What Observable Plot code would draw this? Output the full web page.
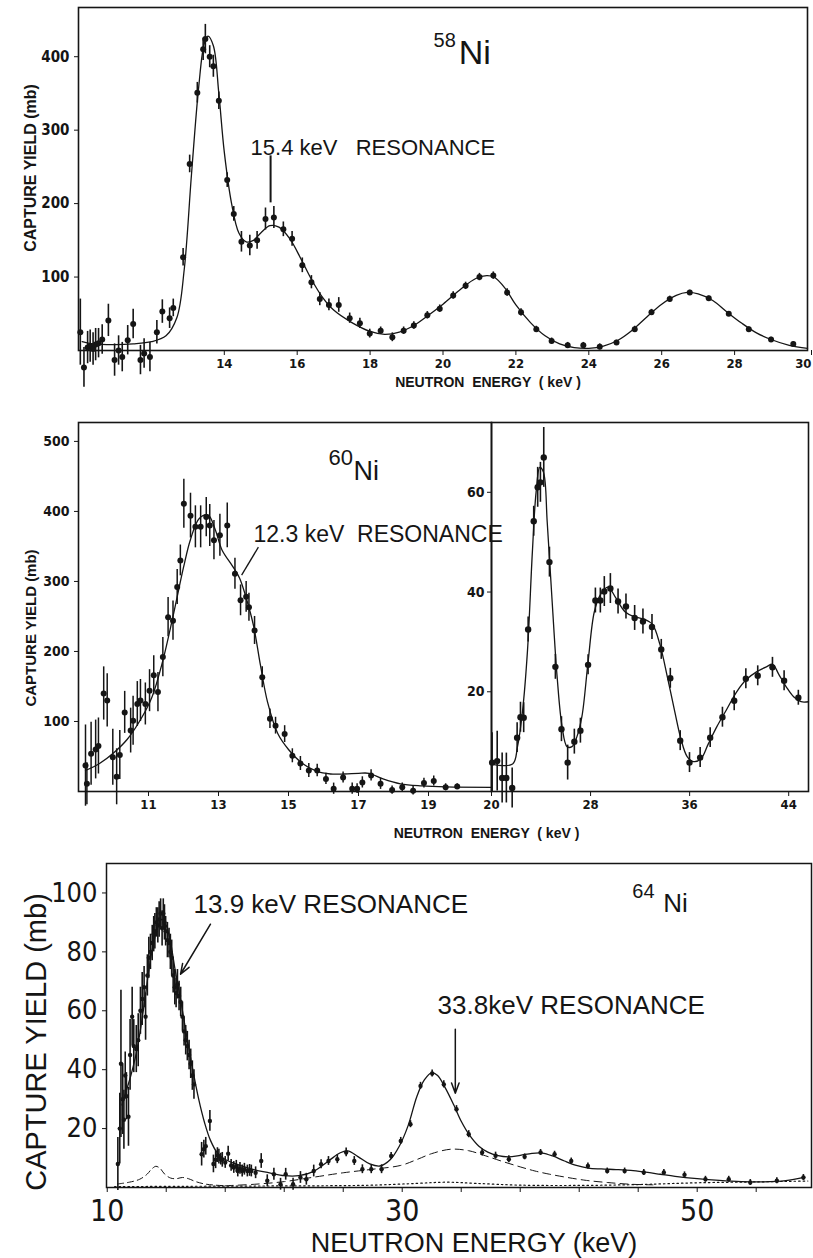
<!DOCTYPE html>
<html><head><meta charset="utf-8">
<script src="https://cdn.jsdelivr.net/npm/d3@7"></script>
<script src="https://cdn.jsdelivr.net/npm/@observablehq/plot@0.6"></script>
<style>
body{margin:0;background:#fff;}
#wrap{position:relative;width:813px;height:1258px;overflow:hidden;background:#fff;}
#wrap svg{position:absolute;}
</style></head><body><div id="wrap"></div>
<script>
// ---------- 58Ni ----------
const ni58XTicks = [14,16,18,20,22,24,26,28];
const ni58XEndTick = [30];
const ni58YTicks = [100,200,300,400];
// [energy keV, yield mb, error mb]
const ni58Points = [
 [10.05,25,45],[10.15,-23,27],[10.25,4,22],[10.32,6,22],[10.4,2,22],[10.47,8,22],[10.55,10,20],[10.65,15,20],
 [10.82,41,22],[10.99,-13,22],[11.1,0,20],[11.2,-9,20],[11.35,14,20],[11.5,36,20],[11.7,-13,20],[11.8,-4,20],
 [11.96,-9,20],[12.15,25,16],[12.3,53,16],[12.5,44,14],[12.6,58,12],[12.87,127,12],[13.05,254,12],[13.26,351,14],
 [13.42,410,15],[13.48,424,20],[13.6,400,15],[13.7,387,15],[13.85,340,12],[14.08,232,10],[14.26,186,10],[14.47,148,14],
 [14.7,143,14],[14.9,150,12],[15.13,179,15],[15.36,181,15],[15.62,165,10],[15.86,152,10],[16.14,116,10],[16.39,93,9],
 [16.62,70,9],[16.87,62,8],[17.14,62,10],[17.44,44,7],[17.72,37,7],[17.99,23,6],[18.29,27,5],[18.61,18,6],
 [18.92,27,5],[19.2,34,5],[19.57,48,5],[19.91,57,5],[20.28,75,5],[20.62,88,5],[21.0,100,5],[21.38,102,5],
 [21.76,79,5],[22.14,52,5],[22.56,29,4],[22.98,13,4],[23.42,7,4],[23.85,7,4],[24.3,5,4],[24.76,11,3],
 [25.26,29,4],[25.72,52,4],[26.22,70,4],[26.77,79,3],[27.29,71,3],[27.84,50,3],[28.39,29,3],[29.0,15,3],[29.61,9,3]
];
const ni58Fit = [
 [10.1,12],[10.4,9],[11.0,8],[11.5,9],[12.0,12],[12.4,20],[12.7,45],[12.9,110],[13.1,240],[13.3,360],[13.45,418],
 [13.55,428],[13.7,415],[13.85,350],[14.0,270],[14.2,200],[14.4,160],[14.6,148],[14.8,150],[15.0,160],[15.25,170],
 [15.5,168],[15.8,152],[16.1,125],[16.4,96],[16.7,72],[17.0,55],[17.5,38],[18.0,26],[18.4,22],[18.8,25],[19.2,34],
 [19.6,48],[20.0,63],[20.5,84],[20.9,98],[21.2,102],[21.4,100],[21.7,85],[22.0,62],[22.4,38],[22.8,20],[23.2,9],
 [23.6,4],[24.0,3],[24.4,6],[24.8,14],[25.2,28],[25.6,46],[26.0,63],[26.4,75],[26.7,79],[27.0,77],[27.4,68],
 [27.8,52],[28.2,37],[28.6,24],[29.0,15],[29.5,7],[30.0,3]
];
const ni58Notes = [{x:14.72, y:276, text:"15.4 keV   RESONANCE"}];
const ni58Marker = [{x:15.27, y1:201, y2:265}];
const ni58Isotope = [{x:19.74, y:422, mass:"58", xs:20.43, ys:405, sym:"Ni"}];

// ---------- 60Ni (low range) ----------
const ni60aXTicks = [11,13,15,17,19];
const ni60aYTicks = [100,200,300,400,500];
const ni60aPoints = [
 [9.2,37,58],[9.24,11,30],[9.36,54,45],[9.49,60,42],[9.57,65,40],[9.72,140,38],[9.82,130,38],[9.98,49,40],
 [10.09,21,40],[10.18,52,35],[10.32,113,30],[10.49,87,32],[10.56,101,35],[10.68,125,32],[10.77,130,30],[10.91,125,30],
 [11.03,144,30],[11.15,166,28],[11.27,142,28],[11.41,192,28],[11.56,249,28],[11.7,244,28],[11.82,292,25],[11.91,330,22],
 [12.01,411,35],[12.2,394,32],[12.34,378,30],[12.49,378,30],[12.65,392,28],[12.75,380,30],[12.87,359,28],[13.04,366,30],
 [13.25,380,32],[13.47,311,22],[13.63,273,22],[13.79,278,22],[13.87,263,20],[14.03,230,20],[14.25,163,15],[14.47,104,14],
 [14.63,94,12],[14.89,82,12],[15.11,51,10],[15.34,40,10],[15.58,30,10],[15.82,30,9],[16.07,18,8],[16.29,4,8],
 [16.56,20,8],[16.82,4,8],[16.96,4,7],[17.11,13,8],[17.36,23,8],[17.63,11,8],[17.96,2,6],[18.25,6,6],
 [18.56,1,6],[18.87,12,7],[19.15,15,7],[19.49,6,5],[19.82,7,4]
];
const ni60aFit = [
 [9.2,30],[9.6,40],[10.0,55],[10.4,75],[10.8,105],[11.1,135],[11.4,185],[11.7,250],[12.0,320],[12.2,360],
 [12.45,390],[12.7,395],[12.9,375],[13.1,345],[13.4,322],[13.6,305],[13.8,275],[14.0,237],[14.2,180],[14.4,128],
 [14.7,82],[15.0,60],[15.4,40],[15.8,29],[16.2,25],[16.6,25],[17.0,26],[17.3,26],[17.7,18],[18.2,11],[18.8,8],
 [19.5,6.5],[20.8,6]
];
const ni60Notes = [{x:14.0, y:367, text:"12.3 keV  RESONANCE"}];
const ni60Pointer = [{x1:14.14, y1:349, x2:13.66, y2:309}];
const ni60Isotope = [{x:16.14, y:477, mass:"60", xs:16.86, ys:457, sym:"Ni"}];

// ---------- 60Ni (high range) ----------
const ni60bXTicks = [20,28,36,44];
const ni60bYTicks = [20,40,60];
const ni60bPoints = [
 [20.05,5.8,6],[20.46,6.1,6],[20.86,2.7,5],[21.2,2.7,5],[21.67,0.7,4],[22.07,10.8,3],[22.34,14.9,3],[22.6,14.8,3],
 [22.96,32.5,2.5],[23.41,54.2,3],[23.73,61,4],[23.95,62,4],[24.22,67,6],[24.68,46,3],[25.16,25,2.5],[25.65,12.5,2.5],
 [26.15,5.8,3.5],[26.69,10,2.5],[27.18,12.2,2.5],[27.8,25.4,2],[28.39,38.3,2.5],[28.79,38.3,2.5],[29.11,40.1,3],
 [29.6,40.7,3],[30.22,38.1,2.5],[30.86,37.1,2.5],[31.56,34.8,2.5],[32.23,34.1,2.5],[32.96,33,2.5],[33.71,28.5,2],
 [34.44,22.7,2],[35.24,10.2,2],[35.99,5.8,2],[36.85,6.8,2],[37.66,10.8,2],[38.65,14.9,2],[39.6,18.2,2],
 [40.54,22.6,2],[41.5,23.2,2],[42.69,24.9,2],[43.63,22.2,2],[44.78,18.8,1.5]
];
const ni60bFit = [
 [20.0,5.5],[21.7,5.5],[22.1,9],[22.5,16],[22.9,28],[23.3,48],[23.6,60],[23.9,65],[24.2,64],[24.5,54],[24.9,38],
 [25.3,23],[25.7,13],[26.1,9],[26.5,9],[26.9,11],[27.3,15],[27.8,26],[28.3,36],[28.8,39.5],[29.4,41],[30.0,39],
 [30.8,36],[31.6,35],[32.4,34.5],[33.0,33.5],[33.6,29.5],[34.2,23],[34.8,16],[35.3,10.5],[35.8,7],[36.3,6],
 [36.9,6.5],[37.5,9.5],[38.2,13],[39.0,16.5],[39.8,20],[40.6,22.5],[41.4,24],[42.2,25],[42.7,25.5],[43.2,23.5],
 [43.8,21],[44.4,19],[45.0,18],[45.6,18]
];

// ---------- 64Ni ----------
const ni64XTicks = [10,14,18,22,26,30,34,38,42,46,50,54];
const ni64XLabels = [10,30,50];
const ni64YTicks = [20,40,60,80,100];
const ni64Points = [
 [10.72,8,9],[10.85,20,12],[10.93,42,25],[11.05,30,12],[11.13,23,10],[11.22,38,8],[11.3,31,8],[11.44,24,10],
 [11.55,45,12],[11.69,58,10],[11.8,48,9],[11.97,47,8],[12.1,50,9],[12.25,60,8],[12.37,64,9],[12.5,68,7],
 [12.6,58,8],[12.72,72,7],[12.82,78,7],[12.93,80,6],[13.05,83,6],[13.15,86,6],[13.23,87,6],[13.33,90,5],
 [13.43,89,6],[13.52,91,6],[13.62,93,5],[13.72,88,6],[13.8,93,5],[13.88,90,6],[13.96,87,5],[14.08,84,6],
 [14.19,83,5],[14.28,80,6],[14.37,78,6],[14.47,72,6],[14.58,68,6],[14.67,66,5],[14.76,69,5],[14.87,65,5],
 [14.98,63,5],[15.1,58,5],[15.21,53,5],[15.32,50,5],[15.43,48,5],[15.55,45,5],[15.66,42,5],[15.77,38,5],
 [15.88,35,5],[16.4,11.3,4],[16.55,13,3],[16.68,14,3],[16.96,22.6,3.5],[17.2,8,3],[17.35,9.4,3],[17.47,11,2.5],
 [17.57,10.5,2.5],[17.7,9.6,2],[17.8,9.4,2.5],[18.0,8.5,2],[18.2,11.5,2.5],[18.4,7.5,2],[18.58,6.8,2],[18.75,7.2,2],
 [18.85,5.6,2],[19.0,6.5,2],[19.15,5.6,2],[19.3,6.2,2],[19.5,5.6,2],[19.65,5.8,2],[19.77,5.6,2],[20.06,5,2],
 [20.44,9,2.5],[20.85,2.3,2],[21.3,4.5,2],[21.75,1.1,2],[22.1,4.5,2],[22.6,1.1,2],[23.1,3.4,2],[23.5,2.8,2],
 [24.0,5.6,2],[24.5,7.9,1.5],[25.0,9,1.5],[25.6,9.6,1.5],[26.2,11.9,1.5],[26.75,9,1.5],[27.3,6.2,1.5],[27.9,6.2,1.5],
 [28.6,6.2,1.5],[29.25,10.7,1.2],[29.9,15.8,1.2],[30.56,21.5,1.2],[31.24,34.5,1.2],[32.03,38.7,1.2],[32.82,35,1.2],
 [33.68,26.6,1.2],[34.51,18.1,1.2],[35.42,11.9,1.2],[36.33,10.8,1.2],[37.23,9.6,1.2],[38.3,10.4,1],[39.38,11.9,1],
 [40.33,11.3,1],[41.46,9,1],[42.59,7.3,1],[43.9,5.6,1],[45.08,5.6,1],[46.38,5.1,1],[47.74,5.1,1],[49.14,4.3,1],
 [50.56,2.8,1],[52.14,2.8,1],[53.6,1.7,1],[55.4,2.3,1],[57.2,3.4,1]
];
const ni64Fit = [
 [11.0,28],[11.3,33],[11.6,38],[11.9,44],[12.2,52],[12.5,62],[12.8,73],[13.1,82],[13.4,88],[13.7,91],[14.0,89],
 [14.3,83],[14.6,74],[15.0,63],[15.4,51],[15.8,40],[16.2,30],[16.6,22],[17.0,16],[17.5,11.5],[18.0,9.5],[19.0,7.5],
 [20.0,6],[21.0,5],[22.0,4],[23.0,4],[24.0,5.5],[25.0,9],[25.8,11.8],[26.3,12.4],[27.0,10.5],[27.8,8],[28.5,7.3],
 [29.2,9.5],[29.8,14],[30.4,21],[31.0,31],[31.5,36.5],[32.0,39],[32.4,38],[32.9,34],[33.5,28],[34.0,22.5],
 [34.6,17.5],[35.2,14],[35.8,12],[36.5,10.8],[37.2,10.4],[38.0,10.9],[38.8,11.6],[39.5,11.7],[40.2,10.7],[41.0,9],
 [41.8,7.5],[42.6,6.6],[43.5,6.3],[44.5,6.1],[45.5,5.8],[46.5,5.2],[47.5,4.5],[48.5,3.8],[50.0,3],[51.5,2.4],
 [53.0,2],[54.5,1.9],[56.0,2.3],[57.3,3.5]
];
const ni64LowComponent = [
 [10.7,1.2],[11.5,1.8],[12.2,2.8],[12.7,4.5],[13.0,6.2],[13.3,7.2],[13.6,6.4],[13.9,4.5],[14.3,3.2],[14.7,3.0],
 [15.1,3.4],[15.5,3.0],[16.0,2.0],[16.6,1.2],[17.3,0.8],[18.0,0.6]
];
const ni64BroadComponent = [
 [18.0,0.6],[20.0,1.1],[22.0,2.0],[24.0,3.5],[26.0,5.0],[28.0,6.2],[29.9,7.5],[31.0,9.5],[32.0,11.5],[33.3,13],
 [34.5,12.5],[35.5,11],[36.7,9],[38.0,7],[39.0,5.6],[40.0,4.5],[41.2,3.4],[42.5,2.4],[43.9,1.7],[45.5,1.1],[47.0,0.9]
];
const ni64Baseline = [
 [10.5,0.3],[15.0,0.4],[20.0,0.5],[25.0,0.6],[28.0,0.8],[31.0,1.4],[33.0,1.8],[35.0,1.4],[38.0,0.8],[42.0,0.7],
 [46.0,1.0],[50.0,1.6],[54.0,1.9],[57.5,2.2]
];
const ni64Notes = [
 {x:15.85, y:95.9, text:"13.9 keV RESONANCE"},
 {x:32.4, y:61.6, text:"33.8keV RESONANCE"}
];
const ni64Arrows = [{x1:17.0, y1:89.4, x2:14.97, y2:72.4}, {x1:33.6, y1:53.7, x2:33.6, y2:32}];
const ni64Isotope = [{x:45.6, y:100.5, mass:"64", xs:47.7, ys:96.5, sym:"Ni"}];

const Y_TITLE = "CAPTURE YIELD (mb)";
const X_TITLE_SMALL = "NEUTRON  ENERGY  ( keV )";
const X_TITLE_BIG = "NEUTRON ENERGY (keV)";

// ---------- drawing ----------
const INK = "#151515";
const NARROW = '"Liberation Sans Narrow", "DejaVu Sans Condensed", sans-serif';
const SANS = '"Liberation Sans", Arimo, "DejaVu Sans", sans-serif';
const wrap = document.getElementById("wrap");
const baseStyle = {background: "transparent", overflow: "visible", color: INK, fontFamily: SANS};

function dataMarks(points, fit, r, bw) {
  return [
    Plot.ruleX(points, {x: d => d[0], y1: d => d[1] - d[2], y2: d => d[1] + d[2], stroke: INK, strokeWidth: bw}),
    Plot.dot(points, {x: d => d[0], y: d => d[1], r, fill: INK, stroke: "none"}),
    Plot.line(fit, {x: d => d[0], y: d => d[1], curve: "catmull-rom", stroke: INK, strokeWidth: 1.3})
  ];
}
function isotopeMarks(iso, massSize, symSize) {
  return [
    Plot.text(iso, {x: "x", y: "y", text: "mass", textAnchor: "start", fontSize: massSize, fontFamily: SANS, fill: INK}),
    Plot.text(iso, {x: "xs", y: "ys", text: "sym", textAnchor: "start", fontSize: symSize, fontFamily: SANS, fill: INK})
  ];
}
function titleY(dx, dy, size, weight) {
  return Plot.text([Y_TITLE], {frameAnchor: "left", dx, dy, rotate: -90, textAnchor: "middle", lineAnchor: "middle",
    fontSize: size, fontWeight: weight, fontFamily: SANS, fill: INK, ariaLabel: "ytitle"});
}
function titleX(label, dx, dy, size, weight) {
  return Plot.text([label], {frameAnchor: "bottom", dx, dy, textAnchor: "middle", lineAnchor: "middle",
    fontSize: size, fontWeight: weight, fontFamily: SANS, fill: INK, ariaLabel: "xtitle"});
}
// stretch texts to the reference lengths
function fitText(svg, label, lengths) {
  d3.select(svg).selectAll(`g[aria-label="${label}"] text`).each(function(d, i) {
    if (lengths[i] != null) {
      this.setAttribute("textLength", lengths[i]);
      this.setAttribute("lengthAdjust", "spacingAndGlyphs");
    }
  });
}
function place(svg, left, top) {
  svg.style.position = "absolute";
  svg.style.left = left + "px";
  svg.style.top = top + "px";
  wrap.appendChild(svg);
  return svg;
}

// Panel 1: 58Ni
const s1 = place(Plot.plot({
  width: 813, height: 395, marginLeft: 78, marginRight: 6, marginTop: 7, marginBottom: 45,
  style: baseStyle,
  x: {domain: [10, 30]}, y: {domain: [0, 467]},
  marks: [
    Plot.frame({stroke: INK, strokeWidth: 1.6}),
    Plot.axisX({ticks: ni58XTicks, tickSize: 5, tickPadding: 3, fontSize: 13, fontWeight: "bold", fontFamily: NARROW, label: null}),
    Plot.axisX({ticks: ni58XEndTick, tickSize: 5, tickPadding: 3, textAnchor: "end", dx: 4, fontSize: 13, fontWeight: "bold", fontFamily: NARROW, label: null}),
    Plot.axisY({ticks: ni58YTicks, tickSize: 4, tickPadding: 5, fontSize: 15, fontWeight: "bold", fontFamily: NARROW, label: null}),
    ...dataMarks(ni58Points, ni58Fit, 3, 1.6),
    Plot.ruleX(ni58Marker, {x: "x", y1: "y1", y2: "y2", stroke: INK, strokeWidth: 2}),
    Plot.text(ni58Notes, {x: "x", y: "y", text: "text", textAnchor: "start", fontSize: 22, fontFamily: SANS, fill: INK, ariaLabel: "note"}),
    ...isotopeMarks(ni58Isotope, 20, 34),
    titleY(-48, -11, 16, "bold"),
    titleX(X_TITLE_SMALL, 45, 32, 14, "bold")
  ]
}), 0, 0);
fitText(s1, "ytitle", [179]);
fitText(s1, "xtitle", [195]);
fitText(s1, "note", [240]);

// Panel 2a: 60Ni low range
const s2 = place(Plot.plot({
  width: 492, height: 441, marginLeft: 78, marginRight: 1, marginTop: 22, marginBottom: 50,
  style: baseStyle,
  x: {domain: [9, 20.8]}, y: {domain: [0, 527]},
  marks: [
    Plot.frame({stroke: INK, strokeWidth: 1.6}),
    Plot.axisX({ticks: ni60aXTicks, tickSize: 5, tickPadding: 3, fontSize: 13, fontWeight: "bold", fontFamily: NARROW, label: null}),
    Plot.axisY({ticks: ni60aYTicks, tickSize: 4, tickPadding: 5, fontSize: 14, fontWeight: "bold", fontFamily: NARROW, label: null}),
    ...dataMarks(ni60aPoints, ni60aFit, 3, 1.5),
    Plot.link(ni60Pointer, {x1: "x1", y1: "y1", x2: "x2", y2: "y2", stroke: INK, strokeWidth: 1.3}),
    Plot.text(ni60Notes, {x: "x", y: "y", text: "text", textAnchor: "start", fontSize: 23, fontFamily: SANS, fill: INK, ariaLabel: "note"}),
    ...isotopeMarks(ni60Isotope, 22, 27),
    titleY(-47, 21, 15, "bold"),
    titleX(X_TITLE_SMALL, 201.5, 42, 14, "bold")
  ]
}), 0, 400);
fitText(s2, "ytitle", [161]);
fitText(s2, "xtitle", [192]);
fitText(s2, "note", [222]);

// Panel 2b: 60Ni high range
place(Plot.plot({
  width: 373, height: 441, marginLeft: 51, marginRight: 5, marginTop: 22, marginBottom: 50,
  style: baseStyle,
  x: {domain: [20, 45.6]}, y: {domain: [0, 74]},
  marks: [
    Plot.frame({stroke: INK, strokeWidth: 1.6}),
    Plot.axisX({ticks: ni60bXTicks, tickSize: 5, tickPadding: 3, fontSize: 13, fontWeight: "bold", fontFamily: NARROW, label: null}),
    Plot.axisY({ticks: ni60bYTicks, tickSize: 4, tickPadding: 3, fontSize: 14, fontWeight: "bold", fontFamily: NARROW, label: null}),
    ...dataMarks(ni60bPoints, ni60bFit, 3.2, 1.6)
  ]
}), 440, 400);

// Panel 3: 64Ni
const s3 = place(Plot.plot({
  width: 813, height: 418, marginLeft: 106, marginRight: 2, marginTop: 23, marginBottom: 71,
  style: baseStyle,
  x: {domain: [9.95, 57.75]}, y: {domain: [0, 110]},
  marks: [
    Plot.frame({stroke: INK, strokeWidth: 1.5}),
    Plot.axisX({ticks: ni64XTicks, tickSize: 5, tickFormat: () => "", label: null}),
    Plot.axisX({ticks: ni64XLabels, tickSize: 0, tickPadding: 12, fontSize: 30, fontFamily: NARROW, label: null}),
    Plot.axisY({ticks: ni64YTicks, tickSize: 4, tickPadding: 5, fontSize: 27, fontFamily: NARROW, label: null}),
    Plot.line(ni64Baseline, {x: d => d[0], y: d => d[1], curve: "catmull-rom", stroke: INK, strokeWidth: 1.2, strokeDasharray: "1.5,3"}),
    Plot.line(ni64LowComponent, {x: d => d[0], y: d => d[1], curve: "catmull-rom", stroke: INK, strokeWidth: 1, strokeDasharray: "6,4"}),
    Plot.line(ni64BroadComponent, {x: d => d[0], y: d => d[1], curve: "catmull-rom", stroke: INK, strokeWidth: 1, strokeDasharray: "8,5"}),
    ...dataMarks(ni64Points, ni64Fit, 2.2, 1.6),
    Plot.arrow(ni64Arrows, {x1: "x1", y1: "y1", x2: "x2", y2: "y2", stroke: INK, strokeWidth: 1.5, headLength: 11, headAngle: 40}),
    Plot.text(ni64Notes, {x: "x", y: "y", text: "text", textAnchor: "start", fontSize: 26, fontFamily: SANS, fill: INK, ariaLabel: "note"}),
    ...isotopeMarks(ni64Isotope, 20, 26),
    titleY(-70, 16.5, 29, "normal"),
    titleX(X_TITLE_BIG, 15, 56, 27, "normal")
  ]
}), 0, 840);
fitText(s3, "ytitle", [287]);
fitText(s3, "xtitle", [313]);
fitText(s3, "note", [269, 268]);
</script>
</body></html>
